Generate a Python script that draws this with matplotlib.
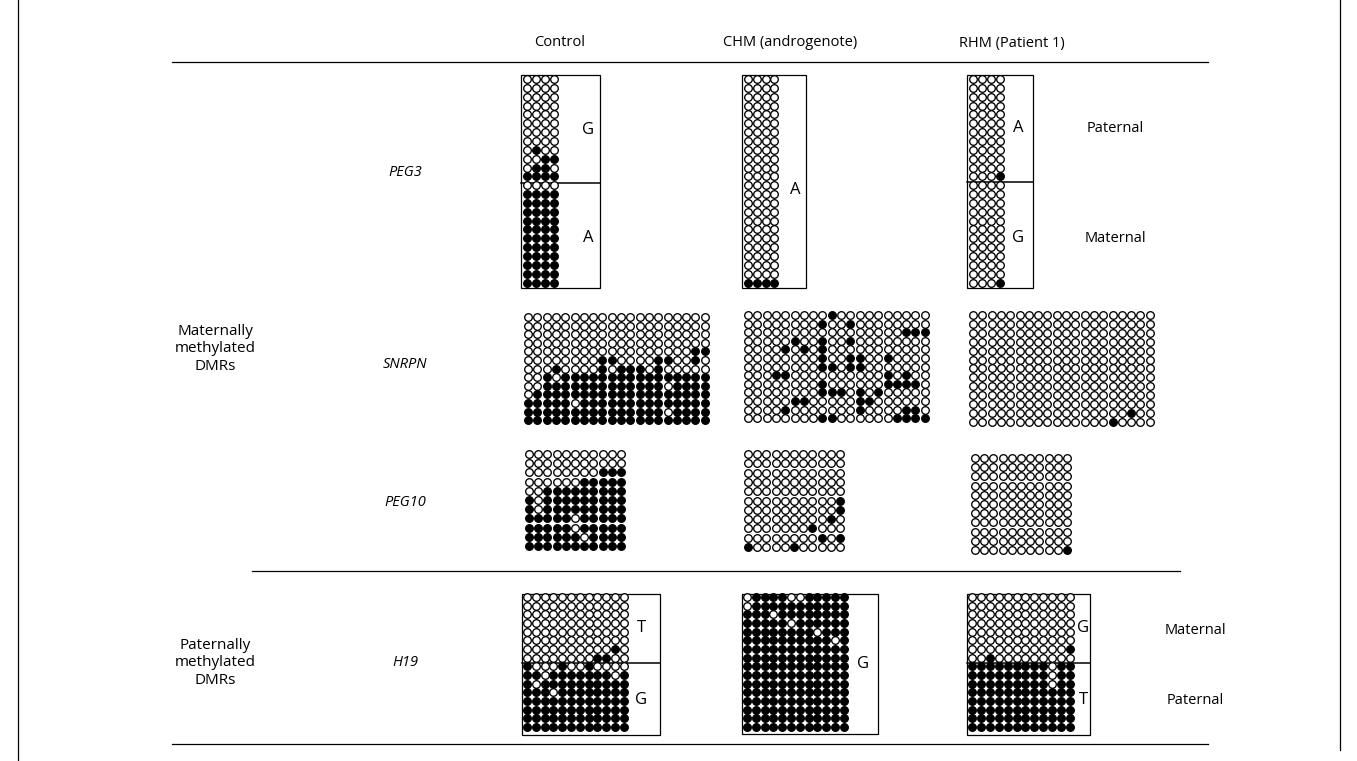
import matplotlib.pyplot as plt
from matplotlib.patches import Rectangle

plt.rcParams['font.family'] = ['Open Sans', 'DejaVu Sans']

# methylation patterns: 'x' = methylated CpG, 'o' = unmethylated
peg3_ctrl_top = ['oooo'] * 8 + ['oxoo', 'ooxx', 'oxxo', 'xxxx']
peg3_ctrl_bot = ['oooo'] + ['xxxx'] * 11
peg3_chm = ['oooo'] * 23 + ['xxxx']
peg3_rhm_top = ['oooo'] * 11 + ['ooox']
peg3_rhm_bot = ['oooo'] * 11 + ['ooox']

snrpn_ctrl = ['oooooooooooooooooooo'] * 4 + [
    'ooooooooooooooooooxx',
    'ooooooooxxooooxxooxo',
    'oooxooooxoxxxoxooooo',
    'ooxoxxxxxxxxxxxxxxxx',
    'ooxxxxxxxxxxxxxoxxxx',
    'oxxxxxxxxxxxxxxxxxxx',
    'xxxxxoxxxxxxxxxxxxxx',
    'xxxxxxxxxxxxxxxoxxxx',
    'xxxxxxxxxxxxxxxxxxxx',
]
snrpn_chm = [
    'oooooooooxoooooooooo',
    'ooooooooxooxoooooooo',
    'oooooooooooooooooxxx',
    'oooooxooxooxoooooooo',
    'ooooxoxoxooooooooooo',
    'ooooooooxooxxooxoooo',
    'ooooooooxxoxxooooooo',
    'oooxxooooooooooxoxoo',
    'ooooooooxooooooxxxxo',
    'ooooooooxxxoxoxooooo',
    'oooooxxoooooxxoooooo',
    'ooooxoooooooxooooxxo',
    'ooooooooxxooooooxxxx',
]
snrpn_rhm = ['oooooooooooooooooooo'] * 11 + [
    'oooooooooooooooooxoo',
    'oooooooooooooooxoooo',
]

peg10_ctrl = [
    'ooooooooooo',
    'ooooooooooo',
    'ooooooooxxx',
    'ooooooxxxxx',
    'ooxxxxxxxxx',
    'xoxxxxxxxxx',
    'xoxxxxxxxxx',
    'xxxxxoxxxxx',
    'xxxxxoxxxxx',
    'xxxxxxoxxxx',
    'xxxxxxxxxxx',
]
peg10_chm = ['ooooooooooo'] * 5 + [
    'oooooooooox',
    'oooooooooox',
    'oooooooooxo',
    'oooooooxooo',
    'ooooooooxox',
    'xooooxooooo',
]
peg10_rhm = ['ooooooooooo'] * 10 + ['oooooooooox']

h19_ctrl_top = ['oooooooooooo'] * 6 + ['ooooooooooxo', 'ooooooooxxoo']
h19_ctrl_bot = [
    'xoooxooxoooo',
    'xxoxxxxxxxox',
    'xoxxxxxxxxxx',
    'xxxoxxxxxxxx',
] + ['xxxxxxxxxxxx'] * 4
h19_chm = [
    'oxxxxooxxxxx',
    'oxxxxxxxxxxx',
    'xxxoxxxxxxxx',
    'xxxxxoxxxxxx',
    'xxxxxxxxoxxx',
    'xxxxxxxxxxox',
] + ['xxxxxxxxxxxx'] * 10
h19_rhm_top = ['oooooooooooo'] * 6 + ['ooooooooooox', 'ooxooooooooo']
h19_rhm_bot = ['xxxxxxxxxoxx'] * 3 + ['xxxxxxxxxxxx'] * 5

col_headers = ['Control', 'CHM (androgenote)', 'RHM (Patient 1)']
genes = ['PEG3', 'SNRPN', 'PEG10', 'H19']

fig = plt.figure(figsize=(13.57, 7.61), dpi=100)
ax = fig.add_axes([0, 0, 1, 1])
ax.set_xlim(0, 1357)
ax.set_ylim(761, 0)
ax.axis('off')

FS = 10.5


def dots(pattern, x0, y0, dx, dy):
    xs_open, ys_open, xs_fill, ys_fill = [], [], [], []
    for r, row in enumerate(pattern):
        for c, ch in enumerate(row):
            if ch == 'x':
                xs_fill.append(x0 + c * dx)
                ys_fill.append(y0 + r * dy)
            else:
                xs_open.append(x0 + c * dx)
                ys_open.append(y0 + r * dy)
    ax.scatter(xs_open, ys_open, s=30, facecolor='white', edgecolor='black', linewidth=0.95, zorder=3)
    ax.scatter(xs_fill, ys_fill, s=30, facecolor='black', edgecolor='black', linewidth=0.95, zorder=3)


def box(x0, y0, x1, y1, split=None):
    ax.add_patch(Rectangle((x0, y0), x1 - x0, y1 - y0, fill=False, edgecolor='black', linewidth=0.9, zorder=2))
    if split is not None:
        ax.plot([x0, x1], [split, split], color='black', linewidth=1.1, zorder=2)


# frame and table rules
ax.plot([18, 18], [0, 761], color='black', linewidth=0.9)
ax.plot([1340, 1340], [0, 750], color='black', linewidth=0.9)
ax.plot([172, 1208], [62, 62], color='black', linewidth=0.9)
ax.plot([252, 1180], [571, 571], color='black', linewidth=0.9)
ax.plot([172, 1208], [744, 744], color='black', linewidth=0.9)

for x, t in zip([560, 790, 1012], col_headers):
    ax.text(x, 43, t, fontsize=FS, ha='center', va='center')

for y, g in zip([172, 365, 503, 662], genes):
    ax.text(405, y, g, fontsize=FS, ha='center', va='center', style='italic')

ax.text(215, 349, 'Maternally\nmethylated\nDMRs', fontsize=FS + 0.5, ha='center', va='center', linespacing=1.2)
ax.text(215, 663, 'Paternally\nmethylated\nDMRs', fontsize=FS + 0.5, ha='center', va='center', linespacing=1.2)

# PEG3
box(521, 75, 600, 288, split=183)
dots(peg3_ctrl_top + peg3_ctrl_bot, 527, 79, 9.1, 8.85)
ax.text(588, 130, 'G', fontsize=FS + 1.5, ha='center', va='center')
ax.text(588, 238, 'A', fontsize=FS + 1.5, ha='center', va='center')

box(742, 75, 806, 288)
dots(peg3_chm, 748, 79, 8.8, 8.85)
ax.text(795, 190, 'A', fontsize=FS + 1.5, ha='center', va='center')

box(967, 75, 1033, 288, split=182)
dots(peg3_rhm_top + peg3_rhm_bot, 973, 79, 9.1, 8.85)
ax.text(1018, 128, 'A', fontsize=FS + 1.5, ha='center', va='center')
ax.text(1018, 238, 'G', fontsize=FS + 1.5, ha='center', va='center')
ax.text(1115, 128, 'Paternal', fontsize=FS, ha='center', va='center')
ax.text(1115, 238, 'Maternal', fontsize=FS, ha='center', va='center')

# SNRPN
dots(snrpn_ctrl, 528, 317, 9.3, 8.6)
dots(snrpn_chm, 748, 315, 9.3, 8.6)
dots(snrpn_rhm, 973, 315, 9.3, 8.9)

# PEG10
dots(peg10_ctrl, 529, 454, 9.2, 9.2)
dots(peg10_chm, 748, 454, 9.2, 9.3)
dots(peg10_rhm, 975, 458, 9.2, 9.2)

# H19
box(522, 594, 660, 735, split=663)
dots(h19_ctrl_top + h19_ctrl_bot, 527, 597, 8.8, 8.67)
ax.text(641, 628, 'T', fontsize=FS + 1.5, ha='center', va='center')
ax.text(641, 700, 'G', fontsize=FS + 1.5, ha='center', va='center')

box(742, 594, 878, 734)
dots(h19_chm, 747, 597, 8.8, 8.67)
ax.text(863, 664, 'G', fontsize=FS + 1.5, ha='center', va='center')

box(967, 594, 1090, 735, split=663)
dots(h19_rhm_top + h19_rhm_bot, 972, 597, 8.9, 8.67)
ax.text(1083, 628, 'G', fontsize=FS + 1.5, ha='center', va='center')
ax.text(1083, 700, 'T', fontsize=FS + 1.5, ha='center', va='center')
ax.text(1195, 630, 'Maternal', fontsize=FS, ha='center', va='center')
ax.text(1195, 700, 'Paternal', fontsize=FS, ha='center', va='center')

fig.savefig('out.png', dpi=100)
